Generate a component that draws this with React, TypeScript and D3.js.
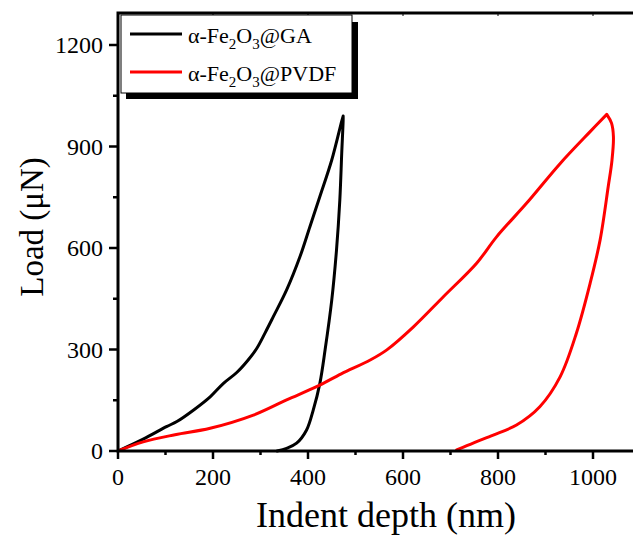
import * as d3 from 'd3';
import React from 'react';

// indent depth (nm) / load (uN)
const gaLoadX = [0, 53, 102, 124, 160, 194, 222, 250, 274, 292, 310, 327, 355, 383, 404, 425, 450, 471, 474];
const gaLoadY = [0, 35, 72, 87, 122, 160, 200, 232, 269, 303, 350, 397, 476, 574, 663, 752, 860, 975, 990];
const gaUnloadX = [474, 474, 471, 467, 460, 450, 436, 425, 411, 397, 376, 355, 335];
const gaUnloadY = [990, 978, 880, 742, 594, 446, 299, 200, 121, 62, 23, 8, 0];

const pvdfLoadX = [0, 53, 120, 194, 285, 355, 418, 470, 531, 566, 622, 685, 755, 797, 860, 931, 994, 1029];
const pvdfLoadY = [0, 27, 48, 67, 106, 151, 190, 228, 269, 299, 367, 456, 555, 633, 732, 850, 944, 995];
const pvdfUnloadX = [1029, 1039, 1043, 1040, 1032, 1015, 994, 965, 931, 888, 839, 790, 750, 713];
const pvdfUnloadY = [995, 969, 929, 860, 781, 624, 496, 348, 220, 131, 77, 47, 25, 3];

const xTicks = [0, 200, 400, 600, 800, 1000];
const xMinor = [100, 300, 500, 700, 900];
const yTicks = [0, 300, 600, 900, 1200];
const yMinor = [150, 450, 750, 1050];

const series = [
  { name: 'GA', color: '#000000', xs: gaLoadX.concat(gaUnloadX), ys: gaLoadY.concat(gaUnloadY) },
  { name: 'PVDF', color: '#ff0000', xs: pvdfLoadX.concat(pvdfUnloadX), ys: pvdfLoadY.concat(pvdfUnloadY) },
];

export default function App() {
  const width = 633, height = 537;
  const left = 118, top = 13, bottom = 451, right = 645;
  const x = d3.scaleLinear().domain([0, 1000]).range([left, 593]);
  const y = d3.scaleLinear().domain([0, 1200]).range([bottom, 45]);

  const font = '"Liberation Serif", "Times New Roman", serif';

  return (
    <svg width={width} height={height} style={{ position: 'absolute', left: 0, top: 0, background: '#fff' }}
      fontFamily={font}>
      {/* curves */}
      {series.map(s => {
        const pts: [number, number][] = s.xs.map((v, i) => [x(v), y(s.ys[i])]);
        const path = d3.line().curve(d3.curveCatmullRom.alpha(0.5))(pts);
        return <path key={s.name} d={path || ''} fill="none" stroke={s.color} strokeWidth={3}
          strokeLinejoin="round" strokeLinecap="round" />;
      })}

      {/* frame */}
      <rect x={left} y={top} width={right - left} height={bottom - top} fill="none" stroke="#000" strokeWidth={3} />

      {/* x ticks */}
      {xTicks.map(t => (
        <g key={'x' + t}>
          <line x1={x(t)} x2={x(t)} y1={bottom} y2={bottom + 8} stroke="#000" strokeWidth={2.5} />
          <line x1={x(t)} x2={x(t)} y1={top} y2={top + 3} stroke="#000" strokeWidth={1} />
          <text x={x(t)} y={bottom + 34} textAnchor="middle" fontSize={24}>{t}</text>
        </g>
      ))}
      {xMinor.map(t => (
        <line key={'xm' + t} x1={x(t)} x2={x(t)} y1={bottom} y2={bottom + 4} stroke="#000" strokeWidth={2.5} />
      ))}

      {/* y ticks */}
      {yTicks.map(t => (
        <g key={'y' + t}>
          <line x1={left - 9} x2={left} y1={y(t)} y2={y(t)} stroke="#000" strokeWidth={2.5} />
          <text x={left - 15} y={y(t) + 8} textAnchor="end" fontSize={24}>{t}</text>
        </g>
      ))}
      {yMinor.map(t => (
        <line key={'ym' + t} x1={left - 5} x2={left} y1={y(t)} y2={y(t)} stroke="#000" strokeWidth={2.5} />
      ))}

      {/* axis titles */}
      <text x={386} y={527} textAnchor="middle" fontSize={36}>Indent depth (nm)</text>
      <text transform="translate(43,227) rotate(-90)" textAnchor="middle" fontSize={33}>Load (μN)</text>

      {/* legend */}
      <rect x={126} y={22} width={232} height={77} fill="#000" />
      <rect x={121} y={15} width={231} height={78} fill="#fff" stroke="#000" strokeWidth={1} />
      {series.map((s, i) => {
        const ly = 34 + i * 38;
        return (
          <g key={'lg' + s.name}>
            <line x1={130} x2={182} y1={ly} y2={ly} stroke={s.color} strokeWidth={3} />
            <text x={188} y={ly + 9} fontSize={22}>
              α-Fe<tspan fontSize={15} dy={6}>2</tspan><tspan dy={-6}>O</tspan><tspan fontSize={15} dy={6}>3</tspan><tspan dy={-6}>@{s.name}</tspan>
            </text>
          </g>
        );
      })}
    </svg>
  );
}
